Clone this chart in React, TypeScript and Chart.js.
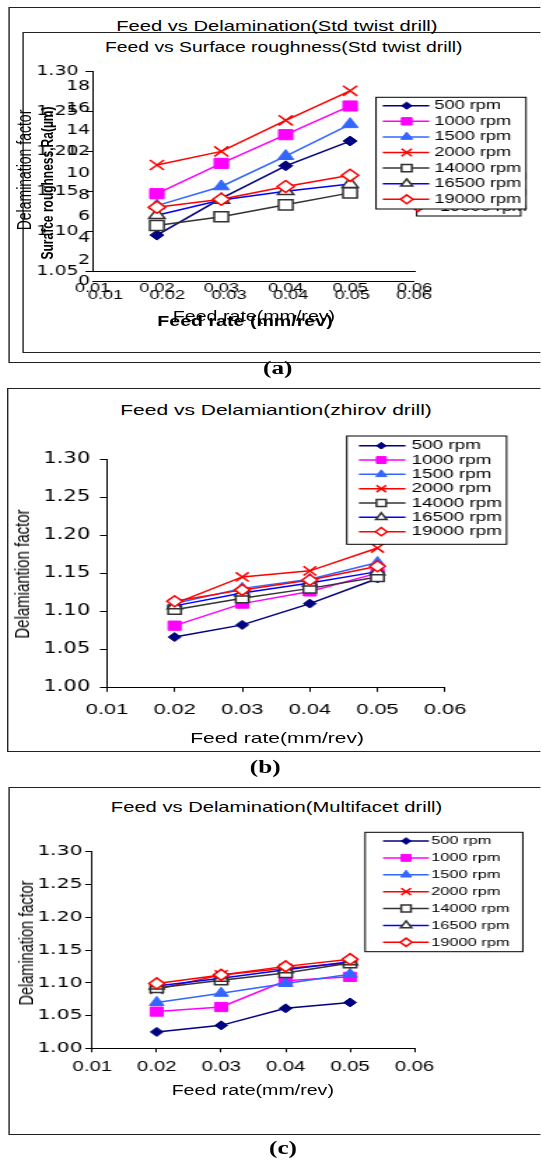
import React, { useEffect, useRef } from 'react';
import { Chart, registerables } from 'chart.js';

Chart.register(...registerables);

// The whole figure is horizontally stretched (as in the reference scan)
const S = 1.4;
const CW = 386; // canvas width in local (unstretched) px
const YW = 50; // fixed y-axis box width
const XH = 40; // fixed x-axis box height

// ---------- data ----------
const FEED_RATES = [0.02, 0.03, 0.04, 0.05];
const FEED_TICKS = [0.01, 0.02, 0.03, 0.04, 0.05, 0.06];
const SPEEDS = ['500 rpm', '1000 rpm', '1500 rpm', '2000 rpm', '14000 rpm', '16500 rpm', '19000 rpm'];

// (a) Std twist drill – delamination factor
const STD_500 = [1.095, 1.141, 1.182, 1.213];
const STD_1000 = [1.147, 1.185, 1.221, 1.257];
const STD_1500 = [1.132, 1.156, 1.194, 1.234];
const STD_2000 = [1.183, 1.200, 1.239, 1.276];
const STD_14000 = [1.107, 1.118, 1.133, 1.148];
const STD_16500 = [1.120, 1.139, 1.150, 1.159];
const STD_19000 = [1.130, 1.140, 1.156, 1.170];

// (b) Zhirov drill
const ZH_500 = [1.066, 1.082, 1.110, 1.143];
const ZH_1000 = [1.081, 1.110, 1.126, 1.150];
const ZH_1500 = [1.110, 1.130, 1.142, 1.164];
const ZH_2000 = [1.110, 1.145, 1.153, 1.183];
const ZH_14000 = [1.102, 1.117, 1.130, 1.145];
const ZH_16500 = [1.107, 1.124, 1.137, 1.152];
const ZH_19000 = [1.113, 1.128, 1.141, 1.159];

// (c) Multifacet drill
const MF_500 = [1.025, 1.035, 1.061, 1.070];
const MF_1000 = [1.056, 1.063, 1.103, 1.109];
const MF_1500 = [1.070, 1.084, 1.099, 1.113];
const MF_2000 = [1.090, 1.112, 1.122, 1.130];
const MF_14000 = [1.092, 1.104, 1.115, 1.130];
const MF_16500 = [1.095, 1.107, 1.120, 1.132];
const MF_19000 = [1.099, 1.112, 1.125, 1.136];

const STD_Y_TICKS = [1.05, 1.1, 1.15, 1.2, 1.25, 1.3];
const RA_Y_TICKS = [0, 2, 4, 6, 8, 10, 12, 14, 16, 18];
const DELAM_Y_TICKS = [1.0, 1.05, 1.1, 1.15, 1.2, 1.25, 1.3];

const STD_SERIES = [STD_500, STD_1000, STD_1500, STD_2000, STD_14000, STD_16500, STD_19000];
const ZH_SERIES = [ZH_500, ZH_1000, ZH_1500, ZH_2000, ZH_14000, ZH_16500, ZH_19000];
const MF_SERIES = [MF_500, MF_1000, MF_1500, MF_2000, MF_14000, MF_16500, MF_19000];

// ---------- styles ----------
const LOOK = [
  { line: '#000080', shape: 'rectRot', fill: '#000080', edge: '#000080', r: 4.5, ew: 1 },
  { line: '#FF00FF', shape: 'rect', fill: '#FF00FF', edge: '#FF00FF', r: 6.5, ew: 1 },
  { line: '#3366FF', shape: 'triangle', fill: '#3366FF', edge: '#3366FF', r: 6, ew: 1 },
  { line: '#FF0000', shape: 'crossRot', fill: '#FF0000', edge: '#FF0000', r: 6.5, ew: 1.5 },
  { line: '#333333', shape: 'rect', fill: '#FFFFFF', edge: '#333333', r: 6.5, ew: 1.5 },
  { line: '#0000FF', shape: 'triangle', fill: '#FFFFFF', edge: '#333333', r: 6, ew: 1.5 },
  { line: '#FF0000', shape: 'rectRot', fill: '#FFFFFF', edge: '#FF0000', r: 5.5, ew: 1.5 },
];

function drawMarker(ctx: any, shape: string, x: number, y: number, r: number, fill: string, edge: string, ew: number) {
  ctx.save();
  ctx.beginPath();
  ctx.lineWidth = ew;
  ctx.strokeStyle = edge;
  ctx.fillStyle = fill;
  if (shape === 'rectRot') {
    ctx.moveTo(x - r, y);
    ctx.lineTo(x, y - r);
    ctx.lineTo(x + r, y);
    ctx.lineTo(x, y + r);
    ctx.closePath();
    ctx.fill();
    ctx.stroke();
  } else if (shape === 'rect') {
    const h = r * Math.SQRT1_2;
    ctx.rect(x - h, y - h, 2 * h, 2 * h);
    ctx.fill();
    ctx.stroke();
  } else if (shape === 'triangle') {
    ctx.moveTo(x, y - r);
    ctx.lineTo(x + r * 0.866, y + r * 0.5);
    ctx.lineTo(x - r * 0.866, y + r * 0.5);
    ctx.closePath();
    ctx.fill();
    ctx.stroke();
  } else if (shape === 'crossRot') {
    const h = r * Math.SQRT1_2;
    ctx.moveTo(x - h, y - h);
    ctx.lineTo(x + h, y + h);
    ctx.moveTo(x + h, y - h);
    ctx.lineTo(x - h, y + h);
    ctx.stroke();
  }
  ctx.restore();
}

// legend geometry in page coords
function boxLegend(L: any, canvasTop: number) {
  return {
    id: 'boxLegend',
    afterDraw(chart: any) {
      const ctx = chart.ctx;
      const X = (px: number) => px / S;
      const Y = (py: number) => py - canvasTop;
      ctx.save();
      ctx.fillStyle = '#fff';
      ctx.strokeStyle = '#000';
      ctx.lineWidth = 1;
      ctx.fillRect(X(L.x0), Y(L.y0), X(L.x1) - X(L.x0), L.y1 - L.y0);
      ctx.strokeRect(X(L.x0), Y(L.y0), X(L.x1) - X(L.x0), L.y1 - L.y0);
      SPEEDS.forEach((label, i) => {
        const st = LOOK[i];
        const y = Y(L.row0 + i * L.step);
        ctx.strokeStyle = st.line;
        ctx.lineWidth = 1.5;
        ctx.beginPath();
        ctx.moveTo(X(L.l0), y);
        ctx.lineTo(X(L.l1), y);
        ctx.stroke();
        drawMarker(ctx, st.shape, X(L.mark), y, st.r * L.ms, st.fill, st.edge, st.ew);
        ctx.fillStyle = '#000';
        ctx.font = `${L.font}px "Liberation Sans", Arial, sans-serif`;
        ctx.textAlign = 'left';
        ctx.textBaseline = 'middle';
        ctx.fillText(label, X(L.text), y);
      });
      ctx.restore();
    },
  };
}

function xScale(min: number, fontSize: number, pad: number, tickLen: number) {
  return {
    type: 'linear',
    min,
    max: 0.06,
    afterBuildTicks: (s: any) => {
      s.ticks = FEED_TICKS.map((v) => ({ value: v }));
    },
    afterFit: (s: any) => {
      s.height = XH;
      s.paddingLeft = 0;
      s.paddingRight = 0;
    },
    ticks: {
      autoSkip: false,
      maxRotation: 0,
      minRotation: 0,
      padding: pad,
      color: '#000',
      font: { family: '"Liberation Sans", Arial, sans-serif', size: fontSize },
      callback: (v: any) => Number(v).toFixed(2),
    },
    grid: { display: tickLen > 0, drawOnChartArea: false, drawTicks: tickLen > 0, tickLength: tickLen, color: '#000' },
    border: { display: true, color: '#000', width: 1 },
  };
}

function yScale(min: number, max: number, ticksArr: number[], dec: number, fontSize: number, pad: number, tickLen: number, showLine: boolean) {
  return {
    type: 'linear',
    min,
    max,
    afterBuildTicks: (s: any) => {
      s.ticks = ticksArr.map((v) => ({ value: v }));
    },
    afterFit: (s: any) => {
      s.width = YW;
      s.paddingTop = 0;
      s.paddingBottom = 0;
    },
    ticks: {
      autoSkip: false,
      padding: pad,
      color: '#000',
      font: { family: '"DejaVu Sans", sans-serif', size: fontSize },
      callback: (v: any) => Number(v).toFixed(dec),
    },
    grid: { display: tickLen > 0, drawOnChartArea: false, drawTicks: tickLen > 0, tickLength: tickLen, color: '#000' },
    border: { display: showLine, color: '#000', width: 1 },
  };
}

function padFor(ca: any, top: number, h: number) {
  return {
    left: ca.l / S - YW,
    right: CW - ca.r / S,
    top: ca.t - top,
    bottom: top + h - ca.b - XH,
  };
}

function datasetsFrom(series: number[][], ms: number) {
  return series.map((vals, i) => {
    const st = LOOK[i];
    return {
      label: SPEEDS[i],
      data: FEED_RATES.map((f, j) => ({ x: f, y: vals[j] })),
      borderColor: st.line,
      backgroundColor: st.fill,
      borderWidth: 1.5,
      pointStyle: st.shape,
      pointRadius: st.r * ms,
      pointBackgroundColor: st.fill,
      pointBorderColor: st.edge,
      pointBorderWidth: st.ew,
      tension: 0,
      fill: false,
      order: 10 - i,
    };
  });
}

function baseOptions(padding: any, scales: any) {
  return {
    responsive: false,
    animation: false,
    events: [],
    devicePixelRatio: 1,
    layout: { padding },
    plugins: { legend: { display: false }, title: { display: false }, tooltip: { enabled: false } },
    scales,
  };
}

// ---------- panel configs ----------
const A_TOP = 10, A_H = 345;
const A_BACK_CA = { l: 92.5, r: 414.5, t: 71.7, b: 271 };
const A_FRONT_CA = { l: 93, r: 414, t: 86.7, b: 281.7 };
const B_TOP = 392, B_H = 358;
const B_CA = { l: 107, r: 445.1, t: 459, b: 687.3 };
const C_TOP = 790, C_H = 342;
const C_CA = { l: 92.3, r: 414.5, t: 851.7, b: 1048.3 };

const cfgABack = () => ({
  type: 'line',
  data: { datasets: datasetsFrom(STD_SERIES, 1.1) },
  options: baseOptions(padFor(A_BACK_CA, A_TOP, A_H), {
    x: xScale(0.01, 13, 9.7, 0),
    y: yScale(1.05, 1.3, STD_Y_TICKS, 2, 13.5, 5, 5, true),
  }),
  plugins: [boxLegend({ x0: 416.7, x1: 520.7, y0: 104, y1: 216, row0: 113.4, step: 15.6, l0: 404, l1: 432, mark: 418, text: 440, ms: 0.8, font: 13 }, A_TOP)],
});

const cfgAFront = () => ({
  type: 'line',
  data: { datasets: [] },
  options: baseOptions(padFor(A_FRONT_CA, A_TOP, A_H), {
    x: xScale(0.00796, 13, 5.5, 0),
    y: yScale(0, 18, RA_Y_TICKS, 0, 13.5, 2, 0, false),
  }),
  plugins: [boxLegend({ x0: 376, x1: 526, y0: 97.3, y1: 209, row0: 105.7, step: 15.6, l0: 382.7, l1: 429.3, mark: 406.7, text: 434.3, ms: 0.8, font: 13 }, A_TOP)],
});

const cfgB = () => ({
  type: 'line',
  data: { datasets: datasetsFrom(ZH_SERIES, 1) },
  options: baseOptions(padFor(B_CA, B_TOP, B_H), {
    x: xScale(0.01, 15.5, 8.9, 4.5),
    y: yScale(1.0, 1.3, DELAM_Y_TICKS, 2, 15, 7, 5, true),
  }),
  plugins: [boxLegend({ x0: 346.8, x1: 506.6, y0: 436, y1: 544.3, row0: 445.7, step: 14.33, l0: 358.9, l1: 405.5, mark: 381.3, text: 411.7, ms: 0.75, font: 13.5 }, B_TOP)],
});

const cfgC = () => ({
  type: 'line',
  data: { datasets: datasetsFrom(MF_SERIES, 1) },
  options: baseOptions(padFor(C_CA, C_TOP, C_H), {
    x: xScale(0.01, 14.5, 6.3, 4),
    y: yScale(1.0, 1.3, DELAM_Y_TICKS, 2, 14.5, 2, 5, true),
  }),
  plugins: [boxLegend({ x0: 365.1, x1: 522.8, y0: 832.3, y1: 951.7, row0: 841, step: 16.88, l0: 383, l1: 428.9, mark: 406.1, text: 431.3, ms: 0.75, font: 11.7 }, C_TOP)],
});

// ---------- components ----------
function ChartCanvas({ top, height, make }: any) {
  const ref = useRef<HTMLCanvasElement | null>(null);
  useEffect(() => {
    const chart = new Chart(ref.current as any, make() as any);
    return () => chart.destroy();
  }, []);
  return (
    <canvas
      ref={ref}
      width={CW}
      height={height}
      style={{ position: 'absolute', left: 0, top, width: CW, height }}
    />
  );
}

function T({ x, y, size, bold, rotate, serif, children }: any) {
  return (
    <div
      style={{
        position: 'absolute',
        left: x / S,
        top: y,
        transform: `translate(-50%, -50%)${rotate ? ' rotate(-90deg)' : ''}`,
        fontSize: size,
        fontWeight: bold ? 'bold' : 'normal',
        fontFamily: serif ? '"Liberation Serif", "Times New Roman", serif' : '"Liberation Sans", Arial, sans-serif',
        whiteSpace: 'nowrap',
        lineHeight: 1,
        color: '#000',
      }}
    >
      {children}
    </div>
  );
}

function Frame({ x, y, h }: any) {
  return (
    <div
      style={{
        position: 'absolute',
        left: x / S,
        top: y,
        width: (580 - x) / S,
        height: h,
        border: '1.5px solid #222',
        boxSizing: 'border-box',
      }}
    />
  );
}

export default function App() {
  useEffect(() => {
    document.body.style.overflow = 'hidden';
  }, []);
  return (
    <div
      style={{
        position: 'absolute',
        left: 0,
        top: 0,
        width: 541 / S,
        height: 1161,
        overflow: 'hidden',
        transform: `scaleX(${S})`,
        transformOrigin: '0 0',
        background: '#fff',
      }}
    >
      {/* (a) */}
      <Frame x={8.3} y={7.3} h={355.4} />
      <Frame x={22.8} y={32.3} h={321} />
      <T x={276.9} y={26} size={14.4}>Feed vs Delamination(Std twist drill)</T>
      <T x={283.8} y={48.3} size={13.8}>Feed vs Surface roughness(Std twist drill)</T>
      <ChartCanvas top={A_TOP} height={A_H} make={cfgABack} />
      <ChartCanvas top={A_TOP} height={A_H} make={cfgAFront} />
      <T x={24.2} y={170} size={14} rotate>Delamination factor</T>
      <T x={47.5} y={183.3} size={12} bold rotate>Surafce roughness,Ra(µm)</T>
      <T x={254} y={315.5} size={14}>Feed rate(mm/rev)</T>
      <T x={245} y={320.5} size={14} bold>Feed rate (mm/rev)</T>
      <T x={277.8} y={368.3} size={18} bold serif>(a)</T>

      {/* (b) */}
      <Frame x={7.6} y={388.3} h={364} />
      <T x={276} y={409.3} size={15}>Feed vs Delamiantion(zhirov drill)</T>
      <ChartCanvas top={B_TOP} height={B_H} make={cfgB} />
      <T x={21.2} y={574.2} size={15} rotate>Delamiantion factor</T>
      <T x={277.1} y={736.7} size={15}>Feed rate(mm/rev)</T>
      <T x={265.2} y={766.7} size={18} bold serif>(b)</T>

      {/* (c) */}
      <Frame x={8.3} y={787.3} h={347.7} />
      <T x={276.6} y={806.7} size={14.4}>Feed vs Delamination(Multifacet drill)</T>
      <ChartCanvas top={C_TOP} height={C_H} make={cfgC} />
      <T x={25.9} y={943.3} size={14.5} rotate>Delamination factor</T>
      <T x={252.8} y={1090} size={14}>Feed rate(mm/rev)</T>
      <T x={283} y={1148.3} size={18} bold serif>(c)</T>
    </div>
  );
}
